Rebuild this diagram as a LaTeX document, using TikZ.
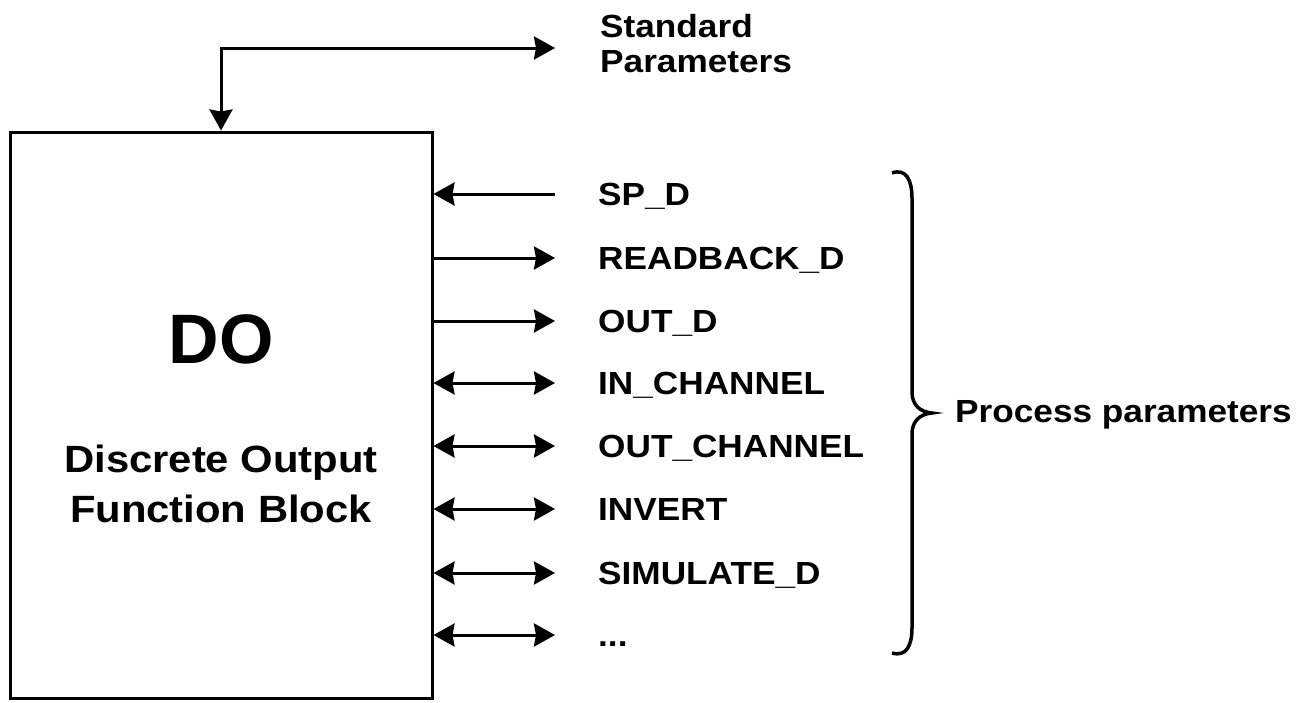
\documentclass[tikz,border=0pt]{standalone}
\usepackage{fontspec}
\setmainfont{Liberation Sans}
\newfontfamily\lblfont{Liberation Sans Bold}[FakeStretch=1.1]
\usetikzlibrary{arrows.meta}
\tikzset{
  tip/.tip={Stealth[length=21pt,width=23pt,inset=2pt]},
  conn/.style={line width=3pt},
  lbl/.style={anchor=base west, inner sep=0pt, font=\lblfont\fontsize{32}{35}\selectfont},
}
\begin{document}
\begin{tikzpicture}[x=1pt,y=-1pt]
\useasboundingbox (0,0) rectangle (1310,702);
\node[draw, line width=3pt, minimum width=422pt, minimum height=566pt, inner sep=0pt] (box) at (221,415) {};
\node[inner sep=0pt, anchor=base, font=\bfseries\fontsize{70}{84}\selectfont] (do) at (221,363) {DO};
\node[inner sep=0pt, align=center, font=\lblfont\fontsize{38}{50}\selectfont] (desc) at (221,484) {Discrete Output\\Function Block};

\node[anchor=north west, inner sep=0pt, align=left, font=\lblfont\fontsize{32}{35}\selectfont] (std) at (600,14) {Standard\\Parameters};
\coordinate (sp) at (555,48);
\draw[conn, tip-tip] (box.north) |- (sp);

\foreach \i/\y/\t in {1/194/SP\_D, 2/258/READBACK\_D, 3/321/OUT\_D, 4/383/IN\_CHANNEL, 5/446/OUT\_CHANNEL, 6/509/INVERT, 7/573/SIMULATE\_D}{
  \node[lbl] (t\i) at (598,\y+11.5) {\t};
  \coordinate (p\i) at (555,\y);
}
\node[lbl] (t8) at (598,646.5) {.{}.{}.};
\coordinate (p8) at (555,635);

\draw[conn, tip-] (box.east |- p1) -- (p1);
\foreach \i in {2,3}{
  \draw[conn, -tip] (box.east |- p\i) -- (p\i);
}
\foreach \i in {4,5,6,7,8}{
  \draw[conn, tip-tip] (box.east |- p\i) -- (p\i);
}

\draw[line width=3.5pt] (892,173) .. controls (906,168) and (912,180) .. (912,198) -- (912,392) .. controls (912,405) and (920,412) .. (932,413) .. controls (920,414) and (912,421) .. (912,434) -- (912,628) .. controls (912,646) and (906,657) .. (892,653);
\node[lbl] (pp) at (955,422) {Process parameters};
\end{tikzpicture}
\end{document}
